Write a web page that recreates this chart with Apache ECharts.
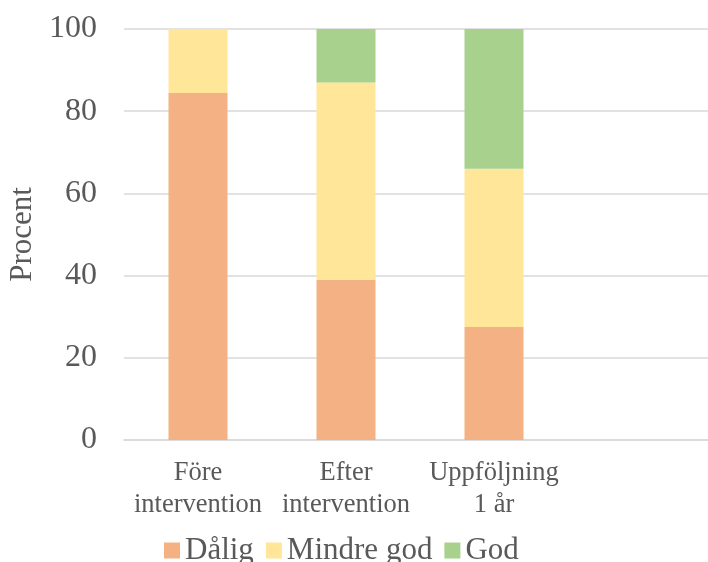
<!DOCTYPE html>
<html>
<head>
<meta charset="utf-8">
<script src="https://cdn.jsdelivr.net/npm/echarts@6/dist/echarts.min.js"></script>
<style>html,body{margin:0;padding:0;background:#fff}#c{width:708px;height:562px}</style>
</head>
<body>
<div id="c"></div>
<script>
const categories = ['Före\nintervention', 'Efter\nintervention', 'Uppföljning\n1 år', ''];
const seriesNames = ['Dålig', 'Mindre god', 'God'];
const dalig = [84.4, 39, 27.5, null];
const mindreGod = [15.6, 48, 38.5, null];
const god = [0, 13, 34, null];
const yTicks = [0, 20, 40, 60, 80, 100];
const colors = ['#F4B183', '#FFE699', '#A9D18E'];

const font = 'Liberation Serif';
const txt = '#595959';
const chart = echarts.init(document.getElementById('c'), null, {renderer: 'canvas'});
const seriesData = [dalig, mindreGod, god];
chart.setOption({
  animation: false,
  color: colors,
  grid: {left: 124, top: 29, width: 592, height: 411, containLabel: false, outerBoundsMode: 'none'},
  legend: {
    data: seriesNames,
    left: 159,
    top: 530,
    itemWidth: 16,
    itemHeight: 16,
    itemGap: 12,
    icon: 'rect',
    textStyle: {fontFamily: font, fontSize: 31, color: txt}
  },
  xAxis: {
    type: 'category',
    data: categories,
    axisLine: {lineStyle: {color: '#d9d9d9', width: 1.5}},
    axisTick: {show: false},
    axisLabel: {fontFamily: font, fontSize: 26.5, color: txt, lineHeight: 32, margin: 17, interval: 0}
  },
  yAxis: {
    type: 'value',
    min: 0, max: 100, interval: 20,
    name: 'Procent',
    nameLocation: 'middle',
    nameGap: 86,
    nameRotate: 90,
    nameTextStyle: {fontFamily: font, fontSize: 31, color: txt},
    axisLine: {show: false},
    axisTick: {show: false},
    splitLine: {lineStyle: {color: '#d9d9d9', width: 1.5}},
    axisLabel: {fontFamily: font, fontSize: 32, color: txt, margin: 27,
      formatter: v => yTicks.includes(v) ? String(v) : ''}
  },
  series: seriesNames.map((n, i) => ({
    name: n,
    type: 'bar',
    stack: 'total',
    barWidth: 59,
    data: seriesData[i],
    itemStyle: {color: colors[i]}
  }))
});
</script>
</body>
</html>
